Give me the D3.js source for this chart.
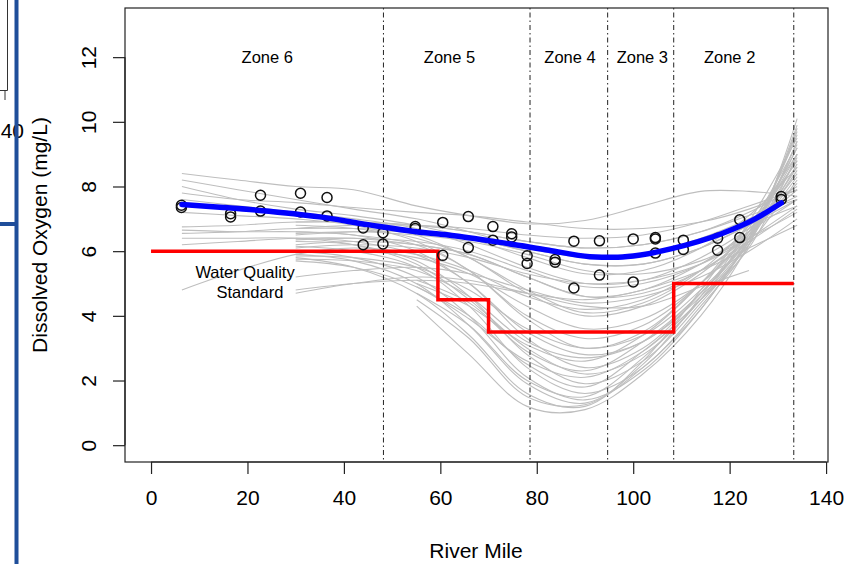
<!DOCTYPE html>
<html><head><meta charset="utf-8">
<script src="https://cdn.jsdelivr.net/npm/d3@7"></script>
<style>body{margin:0;background:#fff}svg{display:block;font-family:"Liberation Sans",Arial,Helvetica,sans-serif}</style>
</head><body><svg id="c" width="864" height="564"></svg>
<script>
const xTicks=[0,20,40,60,80,100,120,140];
const yTicks=[0,2,4,6,8,10,12];
const zoneNames=["Zone 6","Zone 5","Zone 4","Zone 3","Zone 2"];
const zoneLabelMiles=[24.1,61.9,86.9,101.9,120];
const zoneBoundaries=[48.2,78.6,94.7,108.4,133.3];
const stdMiles=[0,59.5,70,108.4,133.3];
const stdValues=[6,4.5,3.5,5,5];
const obsMiles=[6.3,6.3,16.5,16.5,22.7,22.7,31,31,36.5,36.5,44,44,48.1,48.1,54.8,54.8,60.5,60.5,65.8,65.8,70.9,70.9,74.8,74.8,78,78,83.8,83.8,87.7,87.7,93,93,100,100,104.6,104.6,104.6,110.4,110.4,117.5,117.5,122.1,122.1,130.7,130.7];
const obsDO=[7.42,7.35,7.16,7.06,7.73,7.24,7.79,7.21,7.66,7.09,6.72,6.20,6.57,6.22,6.76,6.70,6.89,5.87,7.07,6.11,6.76,6.34,6.54,6.44,5.86,5.62,5.74,5.66,6.31,4.86,6.32,5.26,6.38,5.05,6.42,6.38,5.94,6.34,6.05,6.40,6.03,6.97,6.42,7.69,7.60];
const fitMiles=[6.4,15,22.5,35,45,55,62,72,82.5,91,96,100,108,118.3,125.3,130.7];
const fitDO=[7.44,7.35,7.26,7.06,6.82,6.6,6.49,6.28,6.03,5.83,5.81,5.85,6.08,6.54,7.0,7.49];
const knotsA=[6.4,18,30,42,55,66,78,90,102,114,124,134];
const runsA=[
[8.4,8.2,8.0,7.9,7.4,7.1,6.85,6.95,7.4,7.85,7.85,7.7],
[8.2,7.9,7.6,7.3,7.0,6.6,6.1,5.8,5.9,6.4,7.0,7.7],
[8.0,7.6,7.3,7.1,6.8,6.4,5.8,5.3,5.4,6.1,7.1,8.6],
[7.8,7.6,7.5,7.35,7.2,7.1,6.9,6.7,6.7,6.9,7.3,7.9],
[7.6,7.4,7.2,6.9,6.5,5.8,4.8,4.1,4.4,5.4,6.8,8.8],
[7.4,7.3,7.2,7.0,6.7,6.2,5.5,5.0,5.1,5.8,6.7,7.9],
[7.2,7.1,7.0,6.8,6.3,5.4,4.0,3.3,3.7,5.0,6.6,9.0],
[6.75,6.8,6.9,6.9,6.8,6.6,6.3,6.1,6.2,6.6,7.1,7.6],
[6.65,6.6,6.6,6.5,6.0,5.0,3.5,2.8,3.2,4.7,6.4,9.4],
[6.55,6.6,6.7,6.7,6.6,6.4,6.0,5.6,5.6,6.1,6.8,7.4],
[6.4,6.4,6.4,6.2,5.6,4.5,3.0,2.2,2.8,4.5,6.3,9.8],
[6.2,6.3,6.4,6.4,6.2,5.9,5.2,4.6,4.8,5.6,6.6,7.6],
[4.8,5.4,5.9,6.1,5.9,5.4,4.6,4.2,4.5,5.4,6.3,7.3]
];
const knotsB=[30,42,55,66,78,90,102,114,124,134];
const runsB=[
[6.9,6.9,6.8,6.6,6.3,6.1,6.2,6.6,7.2,8.0],
[6.8,6.7,6.4,5.8,4.7,4.0,4.3,5.3,6.6,8.4],
[6.7,6.8,6.8,6.7,6.5,6.4,6.5,6.9,7.4,7.9],
[6.6,6.5,6.2,5.4,3.9,3.0,3.5,5.0,6.6,9.2],
[6.5,6.6,6.6,6.4,6.0,5.6,5.6,6.1,6.8,7.6],
[6.4,6.3,5.9,5.0,3.3,2.4,3.0,4.7,6.5,9.6],
[6.35,6.4,6.3,6.0,5.4,4.9,5.0,5.6,6.6,8.1],
[6.3,6.2,5.7,4.6,2.8,1.9,2.6,4.4,6.3,9.9],
[6.2,6.3,6.2,5.9,5.2,4.6,4.7,5.4,6.5,8.3],
[6.15,6.0,5.5,4.3,2.4,1.6,2.4,4.3,6.2,10.1],
[6.1,6.2,6.1,5.8,5.3,5.0,5.1,5.6,6.4,7.4],
[6.0,5.8,5.2,4.0,2.1,1.4,2.3,4.2,6.4,9.7],
[5.95,6.0,5.8,5.3,4.3,3.6,3.9,5.0,6.5,8.6],
[5.9,5.7,5.0,3.7,1.9,1.3,2.5,4.6,6.7,9.3],
[5.85,5.8,5.5,4.8,3.6,3.0,3.4,4.8,6.4,8.9],
[5.8,5.5,4.7,3.4,1.6,1.2,2.6,4.8,6.9,9.5],
[5.75,5.7,5.4,4.6,3.2,2.7,3.2,4.6,6.3,8.7],
[5.7,5.5,4.9,3.9,2.6,2.1,2.9,4.5,6.1,9.0],
[5.2,5.4,5.5,5.3,4.8,4.4,4.6,5.2,6.0,7.0],
[4.8,5.0,5.1,5.0,4.7,4.5,4.8,5.4,6.1,6.8],
[4.7,5.0,5.2,5.1,4.7,4.3,4.3,4.9,5.4,null],
[6.55,6.6,6.5,6.3,5.9,5.4,5.3,5.7,6.4,7.2]
];
const knotsC=[55.1,66,78,90,102,114,124,134];
const runsC=[
[4.3,2.8,1.2,1.1,2.2,4.0,6.2,9.4],
[4.5,3.3,1.5,1.25,2.4,4.2,6.4,9.2],
[4.7,3.7,2.0,1.5,2.7,4.5,6.6,8.8],
[4.9,4.0,2.5,1.8,2.9,4.5,6.2,8.2],
[5.1,4.4,2.9,2.3,3.2,4.7,6.4,8.5],
[5.0,4.3,3.1,2.6,3.4,5.0,6.8,9.0]
];

const svg=d3.select("#c");
const L=125,R=828,T=8,B=462;
const x=d3.scaleLinear().domain([-5.4,140.4]).range([L,R]);
const y=d3.scaleLinear().domain([-0.52,13.52]).range([B,T]);

// stray artifacts at left edge of the screenshot
svg.append("path").attr("d","M7.5,0V90.5H0").attr("fill","none").attr("stroke","#333").attr("stroke-width",1);
svg.append("line").attr("x1",5).attr("x2",5).attr("y1",90.5).attr("y2",100).attr("stroke","#333");
svg.append("text").attr("x",24).attr("y",138).attr("text-anchor","end").attr("font-size",21).text("140");
svg.append("rect").attr("x",14.5).attr("y",0).attr("width",4).attr("height",564).attr("fill","#1f4e9a");
svg.append("rect").attr("x",0).attr("y",222).attr("width",16).attr("height",4).attr("fill","#1f4e9a");

const g=svg.append("g");
const line=d3.line().defined(d=>d[1]!=null).x(d=>x(d[0])).y(d=>y(d[1])).curve(d3.curveCatmullRom.alpha(0.5));
function drawRuns(knots,runs){
  runs.forEach(r=>{
    g.append("path").datum(knots.map((k,i)=>[k,r[i]]))
     .attr("d",line).attr("fill","none").attr("stroke","#bebebe").attr("stroke-width",1.1);
  });
}
drawRuns(knotsA,runsA);drawRuns(knotsB,runsB);drawRuns(knotsC,runsC);

// zone boundaries
zoneBoundaries.forEach(m=>{
  g.append("line").attr("x1",x(m)).attr("x2",x(m)).attr("y1",T).attr("y2",B)
   .attr("stroke","#222").attr("stroke-width",1).attr("stroke-dasharray","1.5,3,5,3");
});
zoneNames.forEach((n,i)=>{
  g.append("text").attr("x",x(zoneLabelMiles[i])).attr("y",y(12)).attr("dy","0.35em")
   .attr("text-anchor","middle").attr("font-size",16.5).text(n);
});

// standard step line
const stepLine=d3.line().x(d=>x(d[0])).y(d=>y(d[1])).curve(d3.curveStepAfter);
g.append("path").datum(stdMiles.map((m,i)=>[m,stdValues[i]])).attr("d",stepLine)
 .attr("fill","none").attr("stroke","#ff0000").attr("stroke-width",3.5);
g.append("text").attr("x",x(19.5)).attr("y",y(5.35)).attr("dy","0.35em").attr("text-anchor","middle").attr("font-size",16.5).text("Water Quality");
g.append("text").attr("x",x(20.5)).attr("y",y(4.72)).attr("dy","0.35em").attr("text-anchor","middle").attr("font-size",16.5).text("Standard");

// observations
g.selectAll("circle.o").data(obsMiles.map((m,i)=>[m,obsDO[i]])).join("circle")
 .attr("cx",d=>x(d[0])).attr("cy",d=>y(d[1])).attr("r",5)
 .attr("fill","none").attr("stroke","#111").attr("stroke-width",1.5);

// fitted line
const fitLine=d3.line().x(d=>x(d[0])).y(d=>y(d[1])).curve(d3.curveMonotoneX);
g.append("path").datum(fitMiles.map((m,i)=>[m,fitDO[i]])).attr("d",fitLine)
 .attr("fill","none").attr("stroke","#0000ff").attr("stroke-width",5.5).attr("stroke-linecap","round");

// box
svg.append("rect").attr("x",L).attr("y",T).attr("width",R-L).attr("height",B-T)
 .attr("fill","none").attr("stroke","#222").attr("stroke-width",1.2);

// axes
const xAxis=d3.axisBottom(x).tickValues(xTicks).tickSize(12).tickPadding(16).tickFormat(d3.format("d"));
const xa=svg.append("g").attr("transform",`translate(0,${B})`).call(xAxis);
xa.select(".domain").attr("d",`M${x(0)},0H${x(140)}`).attr("stroke","#222").attr("stroke-width",1.2);
xa.selectAll(".tick line").attr("stroke","#222").attr("stroke-width",1.2);
xa.selectAll("text").attr("font-size",21).attr("fill","#000").attr("font-family","Liberation Sans, Arial, sans-serif");

const yAxis=d3.axisLeft(y).tickValues(yTicks).tickSize(12).tickFormat(d3.format("d"));
const ya=svg.append("g").attr("transform",`translate(${L},0)`).call(yAxis);
ya.select(".domain").attr("d",`M0,${y(0)}V${y(12)}`).attr("stroke","#222").attr("stroke-width",1.2);
ya.selectAll(".tick line").attr("stroke","#222").attr("stroke-width",1.2);
ya.selectAll(".tick text").attr("x",null).attr("dy",null)
  .attr("transform","translate(-37,0) rotate(-90)").attr("text-anchor","middle").attr("dominant-baseline","central")
  .attr("font-size",21).attr("fill","#000").attr("font-family","Liberation Sans, Arial, sans-serif");

svg.append("text").attr("x",476).attr("y",551).attr("dy","0.35em").attr("text-anchor","middle").attr("font-size",21).text("River Mile");
svg.append("text").attr("transform",`translate(40,${(T+B)/2}) rotate(-90)`).attr("dy","0.35em").attr("text-anchor","middle").attr("font-size",21).text("Dissolved Oxygen (mg/L)");
</script></body></html>
